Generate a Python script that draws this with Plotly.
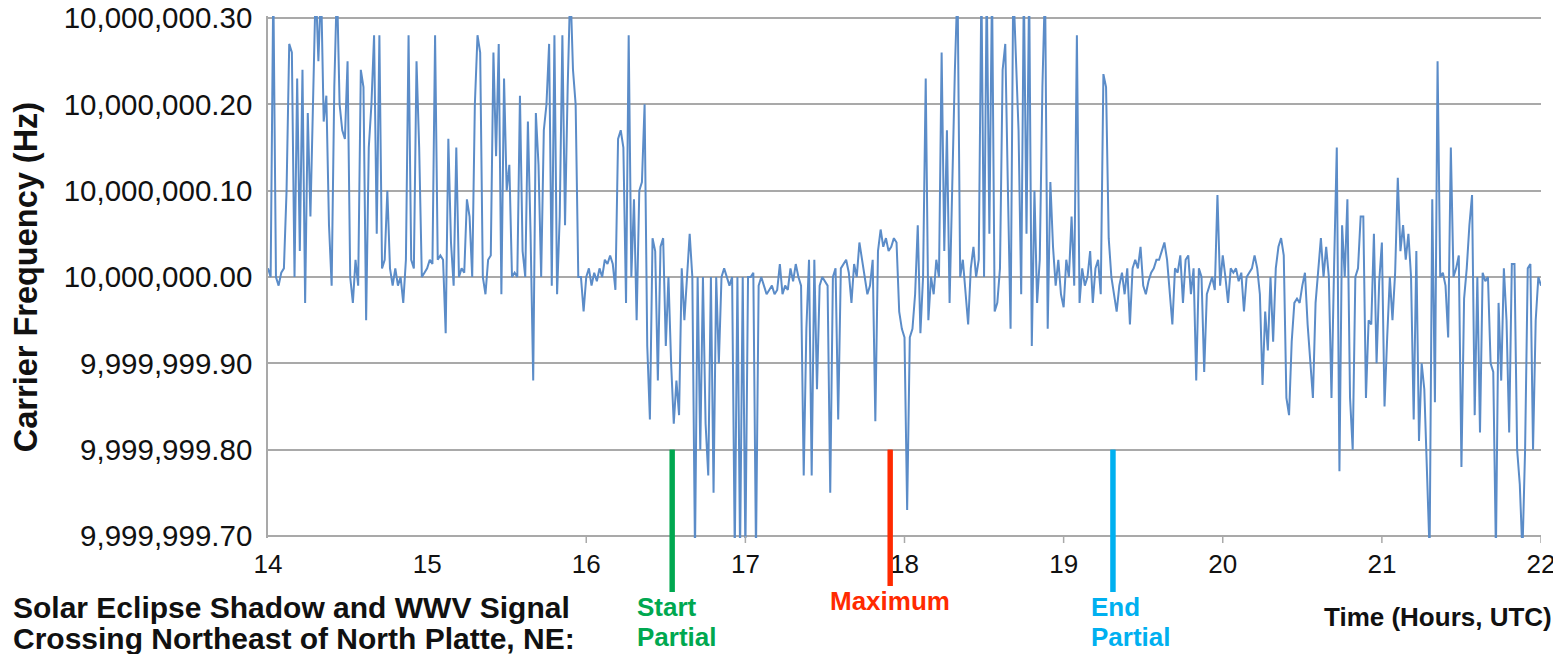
import plotly.graph_objects as go

# ---------------- data (offsets from 10,000,000 Hz, one reading per minute) -------------
BASE_HZ = 10_000_000
SAMPLES_PER_HOUR = 60
START_HOUR = 14

h14 = [0.01, 0.0, 0.34, 0.0, -0.01, 0.005, 0.01, 0.10, 0.27, 0.26,
       0.0, 0.23, 0.03, 0.24, -0.03, 0.19, 0.07, 0.19, 0.34, 0.25,
       0.34, 0.18, 0.21, 0.06, -0.01, 0.22, 0.34, 0.20, 0.17, 0.16,
       0.25, 0.0, -0.03, 0.02, -0.01, 0.24, 0.22, -0.05, 0.15, 0.20,
       0.28, 0.05, 0.28, 0.01, 0.02, 0.10, 0.01, -0.01, 0.01, -0.01,
       0.0, -0.03, 0.02, 0.28, 0.02, 0.01, 0.25, 0.15, 0.0, 0.005]
h15 = [0.01, 0.02, 0.015, 0.28, 0.02, 0.025, 0.02, -0.065, 0.16, 0.04,
       -0.01, 0.15, 0.0, 0.01, 0.005, 0.09, 0.07, 0.0, 0.20, 0.28,
       0.26, 0.0, -0.02, 0.02, 0.025, 0.26, 0.14, 0.27, -0.02, 0.23,
       0.10, 0.13, 0.0, 0.005, 0.0, 0.21, 0.03, 0.0, 0.18, 0.05,
       -0.12, 0.19, 0.13, 0.0, 0.17, 0.20, 0.27, -0.01, 0.28, -0.02,
       0.07, 0.28, 0.06, 0.22, 0.34, 0.24, 0.20, 0.0, 0.0, -0.04]
h16 = [0.0, 0.01, -0.01, 0.005, -0.005, 0.01, 0.0, 0.02, 0.015, 0.025,
       0.015, -0.015, 0.16, 0.17, 0.15, -0.03, 0.28, 0.0, 0.09, -0.05,
       0.10, 0.11, 0.20, -0.08, -0.165, 0.045, 0.03, -0.12, 0.035, 0.045,
       -0.08, 0.0, -0.10, -0.17, -0.12, -0.16, 0.01, -0.05, 0.0, 0.05,
       0.0, -0.32, 0.0, -0.20, 0.0, -0.17, -0.23, 0.0, -0.25, 0.0,
       -0.10, 0.0, 0.01, 0.0, -0.01, 0.0, -0.32, 0.0, -0.32, 0.0]
h17 = [-0.32, 0.0, 0.0, 0.005, -0.32, -0.01, 0.0, -0.01, -0.02, -0.015,
       -0.01, -0.02, -0.015, 0.015, -0.02, -0.01, -0.015, 0.01, -0.005, 0.015,
       0.0, -0.01, -0.23, -0.06, 0.02, -0.23, 0.02, -0.13, -0.01, 0.0,
       -0.005, -0.01, -0.25, 0.0, 0.01, -0.165, 0.01, 0.015, 0.02, 0.005,
       -0.03, 0.015, 0.0, 0.04, 0.02, 0.005, -0.02, -0.01, 0.02, -0.167,
       0.03, 0.055, 0.035, 0.045, 0.03, 0.035, 0.045, 0.04, -0.04, -0.06]
h18 = [-0.07, -0.27, -0.07, -0.06, -0.02, 0.06, -0.065, 0.0, 0.23, -0.05,
       0.0, -0.02, 0.02, 0.0, 0.26, 0.03, 0.17, -0.03, 0.12, 0.24,
       0.34, 0.0, 0.02, -0.02, -0.055, 0.01, 0.035, 0.0, 0.02, 0.34,
       0.0, 0.34, 0.05, 0.34, -0.04, -0.03, 0.01, 0.24, 0.27, 0.10,
       -0.06, 0.34, 0.25, 0.17, -0.02, 0.34, 0.05, 0.34, -0.08, 0.10,
       -0.03, 0.02, 0.22, 0.34, -0.06, 0.11, 0.035, -0.01, 0.02, -0.02]
h19 = [-0.035, 0.02, 0.0, 0.07, -0.01, 0.28, -0.03, 0.01, -0.01, 0.0,
       0.03, -0.03, 0.01, 0.02, -0.02, 0.235, 0.22, 0.045, 0.0, -0.02,
       -0.04, -0.01, 0.005, -0.02, 0.01, -0.055, 0.01, 0.02, 0.01, 0.035,
       -0.01, -0.02, -0.005, 0.005, 0.01, 0.02, 0.02, 0.03, 0.04, 0.02,
       -0.02, -0.055, 0.01, 0.005, 0.025, -0.03, 0.02, 0.025, -0.02, 0.01,
       -0.12, 0.01, 0.0, -0.11, -0.02, -0.01, 0.0, -0.015, 0.095, -0.01]
h20 = [0.025, 0.0, -0.03, 0.01, 0.005, 0.01, -0.005, 0.005, -0.04, 0.0,
       0.005, 0.01, 0.025, 0.01, -0.02, -0.125, -0.04, -0.085, 0.0, -0.075,
       0.01, 0.035, 0.045, 0.025, -0.14, -0.16, -0.075, -0.03, -0.025, -0.03,
       -0.01, 0.005, -0.055, -0.10, -0.14, -0.03, 0.01, 0.045, 0.0, 0.035,
       0.0, -0.14, 0.015, 0.15, -0.225, 0.06, 0.0, 0.09, -0.14, -0.20,
       0.0, 0.01, 0.07, 0.07, -0.14, -0.05, -0.055, 0.05, -0.10, -0.005]
h21 = [0.04, -0.15, -0.07, 0.0, -0.05, 0.005, 0.115, 0.03, 0.06, 0.02,
       0.05, 0.0, -0.165, 0.03, -0.19, -0.10, -0.13, -0.22, -0.32, 0.09,
       -0.145, 0.25, 0.0, 0.005, -0.01, -0.07, 0.15, 0.0, 0.01, 0.025,
       -0.22, -0.025, 0.01, 0.06, 0.095, -0.16, 0.0, -0.18, 0.005, -0.005,
       0.0, -0.10, -0.11, -0.32, -0.03, -0.12, 0.01, -0.05, -0.18, 0.015,
       0.015, -0.20, -0.24, -0.32, -0.20, 0.01, 0.015, -0.20, -0.05, 0.0]
h22 = [-0.01]

x_tick_hours = [14, 15, 16, 17, 18, 19, 20, 21, 22]
y_tick_offsets = [-0.30, -0.20, -0.10, 0.0, 0.10, 0.20, 0.30]

event_lines = [["Start", "Partial"], ["Maximum"], ["End", "Partial"]]
event_hours = [16.54, 17.91, 19.31]
event_top_offset = -0.20

left_note_lines = ["Solar Eclipse Shadow and WWV Signal",
                   "Crossing Northeast of North Platte, NE:"]
x_title = "Time (Hours, UTC)"
y_title = "Carrier Frequency (Hz)"

# ---------------- styling ----------------
PAGE_OFFSET = 8            # default body margin of the html page
EDGE_PAD = 2               # px of extra range so the top gridline is drawn
W, H = 1561 - PAGE_OFFSET, 654 - PAGE_OFFSET
# gridline span in the reference: y = 18 (top) .. 536 (bottom), x = 268 .. 1541
ML, MR = 268 - PAGE_OFFSET, 20
MT, MB = 18 - PAGE_OFFSET - EDGE_PAD, 118 - EDGE_PAD
GRID_SPAN_PX = 518
PLOT_W = W - ML - MR
FONT = "Liberation Sans, Arial, sans-serif"
LINE_COLOR = "#5b8cc8"
GRID = "#a9a9a9"
TEXT = "#111111"
event_colors = ["#00a850", "#ff2a00", "#00b0f0"]
event_xshift = [-37, 0, -24]
event_anchor = ["left", "center", "left"]
event_bottom_px = [592, 586, 592]

offsets = h14 + h15 + h16 + h17 + h18 + h19 + h20 + h21 + h22
times = [START_HOUR + k / SAMPLES_PER_HOUR for k in range(len(offsets))]
freq = [BASE_HZ + v for v in offsets]
span = max(y_tick_offsets) - min(y_tick_offsets)
pad_val = EDGE_PAD * span / GRID_SPAN_PX
ylo = min(y_tick_offsets) - pad_val
yhi = max(y_tick_offsets) + pad_val
PLOT_H = H - MT - MB


def paper_y_from_px(py):
    return (MT + PLOT_H - (py - PAGE_OFFSET)) / PLOT_H


def paper_x_from_px(px):
    return ((px - PAGE_OFFSET) - ML) / PLOT_W


fig = go.Figure()
fig.add_trace(go.Scatter(x=times, y=freq, mode="lines",
                         line=dict(color=LINE_COLOR, width=2),
                         hoverinfo="skip", showlegend=False))

shapes = []
annotations = []
top_paper = (event_top_offset - ylo) / (yhi - ylo)
for i, t in enumerate(event_hours):
    shapes.append(dict(type="line", xref="x", yref="paper", x0=t, x1=t,
                       y0=paper_y_from_px(event_bottom_px[i]), y1=top_paper,
                       line=dict(color=event_colors[i], width=5), layer="above"))
    lines = event_lines[i]
    ys = [601] if len(lines) == 1 else [607, 637]
    for ln, py in zip(lines, ys):
        annotations.append(dict(x=t, xref="x", y=paper_y_from_px(py), yref="paper",
                                text="<b>%s</b>" % ln, showarrow=False,
                                xanchor=event_anchor[i], yanchor="middle",
                                xshift=event_xshift[i],
                                font=dict(family=FONT, size=26, color=event_colors[i])))

for ln, py in zip(left_note_lines, [607, 638]):
    annotations.append(dict(x=paper_x_from_px(11), xref="paper", y=paper_y_from_px(py),
                            yref="paper", text="<b>%s</b>" % ln, showarrow=False,
                            xanchor="left", yanchor="middle",
                            font=dict(family=FONT, size=30, color=TEXT)))

annotations.append(dict(x=paper_x_from_px(1554), xref="paper", y=paper_y_from_px(617),
                        yref="paper", text="<b>%s</b>" % x_title, showarrow=False,
                        xanchor="right", yanchor="middle",
                        font=dict(family=FONT, size=26, color=TEXT)))

fig.update_layout(
    width=W, height=H,
    margin=dict(l=ML, r=MR, t=MT, b=MB, pad=0, autoexpand=False),
    paper_bgcolor="white", plot_bgcolor="white",
    shapes=shapes, annotations=annotations,
    showlegend=False,
)
fig.update_xaxes(range=[min(x_tick_hours), max(x_tick_hours)],
                 tickvals=x_tick_hours, ticktext=[str(h) for h in x_tick_hours],
                 showgrid=False, zeroline=False, automargin=False,
                 showline=False,
                 ticks="", ticklabelstandoff=8,
                 ticklabeloverflow="allow",
                 tickfont=dict(family=FONT, size=26, color=TEXT))
fig.update_yaxes(range=[BASE_HZ + ylo, BASE_HZ + yhi],
                 tickvals=[BASE_HZ + o for o in y_tick_offsets], tickformat=",.2f",
                 showgrid=True, gridcolor=GRID, gridwidth=1.5, zeroline=False,
                 automargin=False,
                 showline=True, linecolor=GRID, linewidth=1.5,
                 ticks="", ticklabelstandoff=8,
                 ticklabeloverflow="allow",
                 tickfont=dict(family=FONT, size=29.5, color=TEXT),
                 title=dict(text="<b>%s</b>" % y_title, standoff=16,
                            font=dict(family=FONT, size=32.5, color=TEXT)))

# x axis line along the -0.30 gridline, with tick marks below it (reference style)
axis_y = min(y_tick_offsets)
axis_paper = (axis_y - ylo) / (yhi - ylo)
shapes_axis = [dict(type="line", xref="paper", yref="paper", x0=0, x1=1,
                    y0=axis_paper, y1=axis_paper, line=dict(color=GRID, width=1.5))]
for hr in x_tick_hours:
    shapes_axis.append(dict(type="line", xref="x", yref="paper", x0=hr, x1=hr,
                            y0=axis_paper, y1=axis_paper - 7 / PLOT_H,
                            line=dict(color=GRID, width=1.5)))
fig.update_layout(shapes=shapes_axis + shapes)

fig.write_html("out.html")
